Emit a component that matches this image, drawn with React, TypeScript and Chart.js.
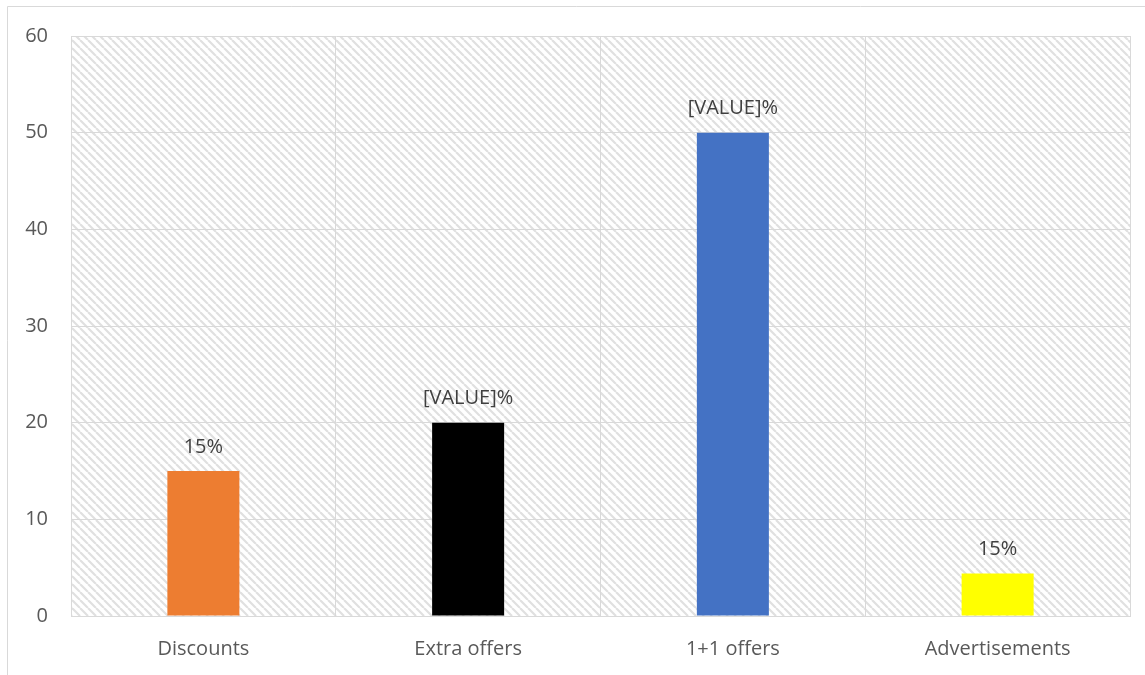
import React, { useEffect, useRef } from "react";
import { Chart, registerables } from "chart.js";

Chart.register(...registerables);

const categories = ["Discounts", "Extra offers", "1+1 offers", "Advertisements"];
const values = [15, 20, 50, 4.4];
const barLabels = ["15%", "[VALUE]%", "[VALUE]%", "15%"];
const barColors = ["#ED7D31", "#000000", "#4472C4", "#FFFF00"];
const yTicks = [0, 10, 20, 30, 40, 50, 60];

const FONT = "'Open Sans', 'Liberation Sans', sans-serif";

function makeHatch(): CanvasPattern | string {
  const size = 8;
  const tile = document.createElement("canvas");
  tile.width = size;
  tile.height = size;
  const c = tile.getContext("2d");
  if (!c) return "#ffffff";
  c.fillStyle = "#ffffff";
  c.fillRect(0, 0, size, size);
  c.strokeStyle = "#e0e0e0";
  c.lineWidth = 2.2;
  c.beginPath();
  for (let k = -1; k <= 1; k++) {
    c.moveTo(k * size, 0);
    c.lineTo(k * size + size, size);
  }
  c.stroke();
  const p = c.createPattern(tile, "repeat");
  return p || "#ffffff";
}

const framePlugin = {
  id: "frame",
  beforeDraw(chart: any) {
    const { ctx, chartArea } = chart;
    ctx.save();
    ctx.fillStyle = "#ffffff";
    ctx.fillRect(0, 0, chart.width, chart.height);
    ctx.strokeStyle = "#d9d9d9";
    ctx.lineWidth = 1;
    ctx.beginPath();
    ctx.moveTo(7.5, chart.height);
    ctx.lineTo(7.5, 6.5);
    ctx.lineTo(chart.width, 6.5);
    ctx.stroke();
    ctx.fillStyle = makeHatch();
    ctx.fillRect(chartArea.left, chartArea.top, chartArea.right - chartArea.left, chartArea.bottom - chartArea.top);
    ctx.restore();
  },
};

const labelPlugin = {
  id: "barText",
  afterDatasetsDraw(chart: any) {
    const { ctx } = chart;
    const meta = chart.getDatasetMeta(0);
    ctx.save();
    ctx.font = `20px ${FONT}`;
    ctx.fillStyle = "#404040";
    ctx.textAlign = "center";
    ctx.textBaseline = "middle";
    meta.data.forEach((bar: any, i: number) => {
      ctx.fillText(barLabels[i], bar.x, bar.y - 24);
    });
    ctx.restore();
  },
};

export default function App() {
  const ref = useRef<HTMLCanvasElement>(null);

  useEffect(() => {
    if (!ref.current) return;
    const chart = new Chart(ref.current, {
      type: "bar",
      data: {
        labels: categories,
        datasets: [
          {
            data: values,
            backgroundColor: barColors,
            borderWidth: 0,
            barPercentage: 0.272,
            categoryPercentage: 1,
          },
        ],
      },
      options: {
        animation: false,
        responsive: false,
        maintainAspectRatio: false,
        layout: { padding: { left: 0, top: 36, right: 15, bottom: 0 } },
        plugins: {
          legend: { display: false },
          tooltip: { enabled: false },
        },
        scales: {
          x: {
            grid: { color: "#d9d9d9", lineWidth: 1, drawTicks: false, offset: true },
            border: { color: "#d9d9d9" },
            ticks: { color: "#595959", font: { family: FONT, size: 20 }, padding: 21 },
            afterFit: (s: any) => {
              s.height = 59;
            },
          },
          y: {
            min: 0,
            max: 60,
            afterBuildTicks: (s: any) => {
              s.ticks = yTicks.map((v) => ({ value: v }));
            },
            grid: { color: "#d9d9d9", lineWidth: 1, drawTicks: false },
            border: { color: "#d9d9d9" },
            ticks: { color: "#595959", font: { family: FONT, size: 20 }, padding: 23 },
            afterFit: (s: any) => {
              s.width = 71;
            },
          },
        },
      },
      plugins: [framePlugin, labelPlugin],
    });
    return () => chart.destroy();
  }, []);

  return (
    <div style={{ position: "fixed", left: 0, top: 0, width: 1145, height: 675, background: "#fff" }}>
      <canvas ref={ref} width={1145} height={675} style={{ display: "block" }} />
    </div>
  );
}
